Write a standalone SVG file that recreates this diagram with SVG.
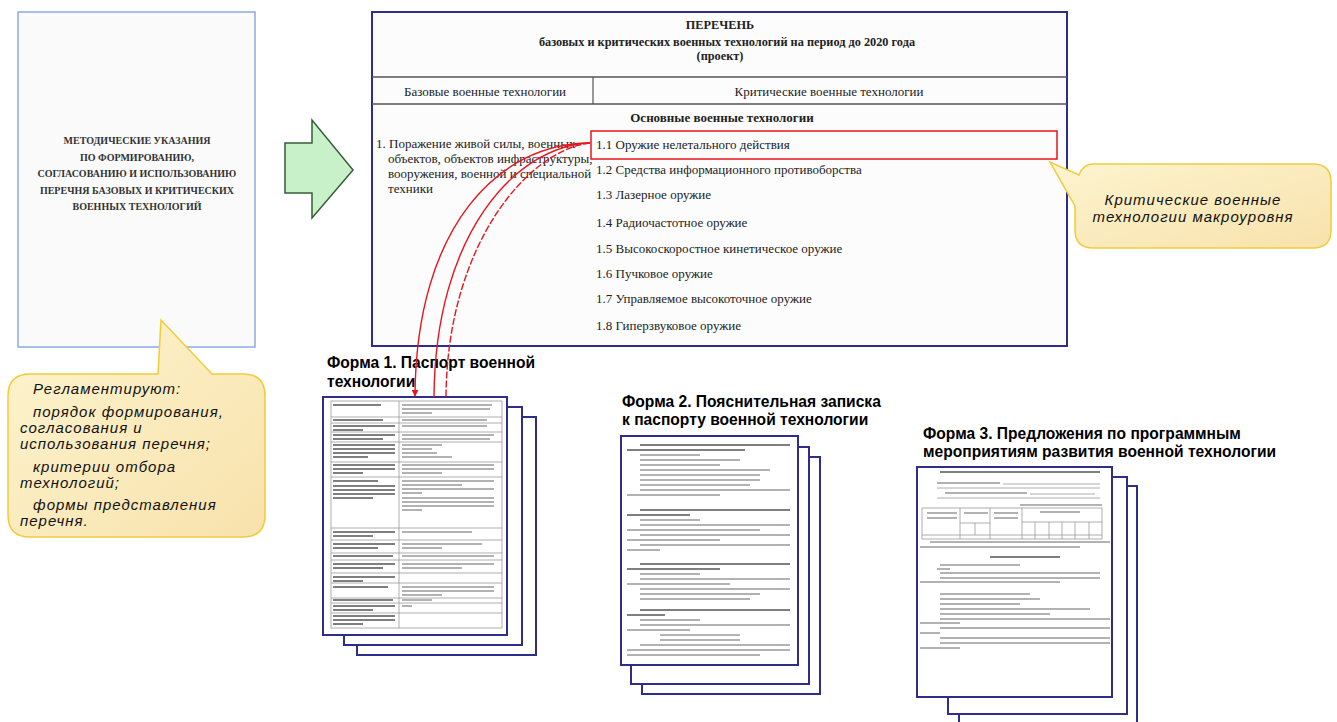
<svg xmlns="http://www.w3.org/2000/svg" width="1337" height="722" viewBox="0 0 1337 722">
  <style>
    .serif { font-family: "Liberation Serif", "Times New Roman", serif; fill: #222; }
    .cover { font-family: "Liberation Serif", serif; font-weight: bold; font-size: 10px; fill: #333; text-anchor: middle; }
    .hdr { font-weight: bold; font-size: 12.3px; text-anchor: middle; }
    .item { font-size: 13px; }
    .note { font-family: "Liberation Sans", Arial, sans-serif; font-style: italic; font-size: 15px; fill: #111; letter-spacing: 1px; }
    .ftitle { font-family: "Liberation Sans", Arial, sans-serif; font-weight: bold; font-size: 15.6px; fill: #000; }
    .page { fill: #fff; stroke: #2e2e8a; stroke-width: 2; }
    .bubble { fill: url(#bubbleFill); stroke: #f0cc3c; stroke-width: 1.5; }
    .txtDark { fill: none; stroke: #555; stroke-width: 1.6; }
    .txtLight { fill: none; stroke: #999; stroke-width: 1.3; }
    .grid { fill: none; stroke: #999; stroke-width: 0.8; }
    .link { fill: none; stroke: #e8141c; stroke-width: 1.4; }
  </style>
  <defs>
    <linearGradient id="bubbleFill" x1="0" y1="0" x2="1" y2="1">
      <stop offset="0" stop-color="#fdf4cf"/>
      <stop offset="1" stop-color="#f8e2ac"/>
    </linearGradient>
    <marker id="redHead" viewBox="0 0 10 10" refX="9" refY="5" markerWidth="7" markerHeight="7" orient="auto" markerUnits="userSpaceOnUse">
      <path d="M0,0 L10,5 L0,10 Z" fill="#e8141c"/>
    </marker>
  </defs>

  <rect width="1337" height="722" fill="#fff"/>

  <!-- Cover of the methodical guidelines -->
  <g id="cover">
    <rect x="18" y="12" width="237" height="335" fill="#fafafa" stroke="#8eaae0" stroke-width="1.5"/>
    <text class="cover" x="137" y="144">МЕТОДИЧЕСКИЕ УКАЗАНИЯ</text>
    <text class="cover" x="137" y="161">ПО ФОРМИРОВАНИЮ,</text>
    <text class="cover" x="137" y="177">СОГЛАСОВАНИЮ И ИСПОЛЬЗОВАНИЮ</text>
    <text class="cover" x="137" y="194">ПЕРЕЧНЯ БАЗОВЫХ И КРИТИЧЕСКИХ</text>
    <text class="cover" x="137" y="210">ВОЕННЫХ ТЕХНОЛОГИЙ</text>
  </g>

  <!-- Left note bubble -->
  <g id="note-left">
    <path class="bubble" d="M30,374 H158 L161,320 L212,374 H243 Q265,374 265,396 V515 Q265,537 243,537 H30 Q8,537 8,515 V396 Q8,374 30,374 Z"/>
    <text class="note" x="33" y="394">Регламентируют:</text>
    <text class="note" x="33" y="417">порядок формирования,</text>
    <text class="note" x="20" y="433">согласования и</text>
    <text class="note" x="20" y="449">использования перечня;</text>
    <text class="note" x="33" y="472">критерии отбора</text>
    <text class="note" x="20" y="488">технологий;</text>
    <text class="note" x="33" y="510">формы представления</text>
    <text class="note" x="20" y="526">перечня.</text>
  </g>

  <!-- Block arrow -->
  <g id="block-arrow">
    <path d="M285,143 H312 V120 L353,170 L312,218 V193 H285 Z" fill="#c9f1c9" stroke="#355e35" stroke-width="1.5" stroke-linejoin="miter"/>
  </g>

  <!-- List of base and critical technologies -->
  <g id="tech-list">
    <rect x="372" y="12" width="695" height="334" fill="#fcfcfc" stroke="#2e2e8a" stroke-width="2"/>
    <text class="serif hdr" x="720" y="29">ПЕРЕЧЕНЬ</text>
    <text class="serif hdr" x="727" y="46">базовых и критических военных технологий на период до 2020 года</text>
    <text class="serif hdr" x="720" y="60">(проект)</text>
    <line x1="372" y1="77" x2="1067" y2="77" stroke="#555" stroke-width="1.5"/>
    <line x1="372" y1="104" x2="1067" y2="104" stroke="#555" stroke-width="1.5"/>
    <line x1="593" y1="77" x2="593" y2="104" stroke="#555" stroke-width="1.2"/>
    <text class="serif item" x="485" y="96" text-anchor="middle">Базовые военные технологии</text>
    <text class="serif item" x="829" y="96" text-anchor="middle">Критические военные технологии</text>
    <text class="serif item" x="722" y="122" text-anchor="middle" font-weight="bold">Основные военные технологии</text>
    <text class="serif item" x="376" y="148">1. Поражение живой силы, военных</text>
    <text class="serif item" x="388" y="163">объектов, объектов инфраструктуры,</text>
    <text class="serif item" x="388" y="178">вооружения, военной и специальной</text>
    <text class="serif item" x="388" y="193">техники</text>
    <text class="serif item" x="596" y="149">1.1 Оружие нелетального действия</text>
    <text class="serif item" x="596" y="174">1.2 Средства информационного противоборства</text>
    <text class="serif item" x="596" y="199">1.3 Лазерное оружие</text>
    <text class="serif item" x="596" y="227">1.4 Радиочастотное оружие</text>
    <text class="serif item" x="596" y="253">1.5 Высокоскоростное кинетическое оружие</text>
    <text class="serif item" x="596" y="278">1.6 Пучковое оружие</text>
    <text class="serif item" x="596" y="303">1.7 Управляемое высокоточное оружие</text>
    <text class="serif item" x="596" y="330">1.8 Гиперзвуковое оружие</text>
    <rect x="591" y="131" width="466" height="28" fill="none" stroke="#e8141c" stroke-width="1.5"/>
  </g>

  <!-- Right note bubble -->
  <g id="note-right">
    <path class="bubble" d="M1093,164 H1313 Q1331,164 1331,182 V230 Q1331,248 1313,248 H1093 Q1075,248 1075,230 V206 L1050,162 L1079,175 Q1083,164 1093,164 Z"/>
    <text class="note" x="1193" y="205" text-anchor="middle">Критические военные</text>
    <text class="note" x="1193" y="222" text-anchor="middle">технологии макроуровня</text>
  </g>

  <!-- Form 1: technology passport -->
  <g id="form1">
    <text class="ftitle" x="327" y="368">Форма 1. Паспорт военной</text>
    <text class="ftitle" x="327" y="387">технологии</text>
    <rect class="page" x="357" y="417" width="179" height="238"/>
    <rect class="page" x="344" y="407" width="178" height="238"/>
    <rect class="page" x="323" y="397" width="184" height="238"/>
    <rect class="grid" x="331" y="401" width="171" height="227"/>
    <path class="grid" d="M399,401 V628 M331,417 H502 M331,423 H502 M331,432 H502 M331,442 H502 M331,462 H502 M331,477 H502 M331,528 H502 M331,540 H502 M331,553 H502 M331,560 H502 M331,573 H502 M331,583 H502 M331,598 H502 M331,603 H502 M331,613 H502"/>
    <path class="txtDark" d="M333,405h48 M333,420h50 M333,426h62 M333,430h30 M333,435h62 M333,439h50 M333,445h62 M333,449h62 M333,453h62 M333,457h35 M333,465h62 M333,469h62 M333,473h30 M333,481h45 M333,486h62 M333,490h62 M333,494h62 M333,498h40 M333,532h62 M333,536h40 M333,544h62 M333,548h45 M333,556h60 M333,564h62 M333,568h50 M333,577h62 M333,581h30 M333,587h55 M333,600h60 M333,606h62 M333,610h40 M333,616h62 M333,620h62 M333,624h30"/>
    <path class="txtLight" d="M402,405h90 M402,409h88 M402,413h30 M402,420h85 M402,426h85 M402,435h92 M402,439h88 M402,445h40 M402,449h30 M402,453h35 M402,457h50 M402,465h92 M402,469h92 M402,473h40 M402,481h92 M402,485h60 M402,489h92 M402,493h20 M402,498h92 M402,502h92 M402,506h92 M402,510h20 M402,532h70 M402,544h80 M402,548h40 M402,556h92 M402,564h92 M402,568h60 M402,587h92 M402,591h92 M402,595h40 M402,600h30 M402,606h10"/>
  </g>

  <!-- Form 2: explanatory note -->
  <g id="form2">
    <text class="ftitle" x="622" y="407">Форма 2. Пояснительная записка</text>
    <text class="ftitle" x="622" y="425">к паспорту военной технологии</text>
    <rect class="page" x="642" y="457" width="178" height="237"/>
    <rect class="page" x="631" y="447" width="178" height="237"/>
    <rect class="page" x="621" y="436" width="177" height="229"/>
    <path class="txtDark" d="M640,445h150 M627,450h118 M640,510h150 M627,515h63 M640,564h150 M627,569h93 M640,610h150 M627,615h38"/>
    <path class="txtLight" d="M640,455h60 M640,460h100 M640,465h80 M640,470h130 M640,475h120 M640,480h120 M640,485h110 M640,490h150 M627,495h93 M640,520h60 M640,525h150 M627,530h133 M640,535h150 M627,540h93 M640,545h150 M627,550h33 M640,574h60 M640,579h150 M627,584h103 M640,589h150 M640,594h120 M640,599h110 M640,620h60 M640,625h150 M627,630h63 M660,635h80 M660,640h80 M640,645h150 M627,650h163 M627,655h133"/>
  </g>

  <!-- Form 3: programme proposals -->
  <g id="form3">
    <text class="ftitle" x="923" y="439">Форма 3. Предложения по программным</text>
    <text class="ftitle" x="923" y="457">мероприятиям развития военной технологии</text>
    <rect class="page" x="959" y="486" width="178" height="240"/>
    <rect class="page" x="948" y="477" width="179" height="237"/>
    <rect class="page" x="917" y="467" width="195" height="230"/>
    <path class="txtDark" d="M940,472h160 M990,557h70"/>
    <path class="txtLight" d="M937,483h63 M945,493h82 M1020,505h82 M930,542h180 M920,547h160 M940,565h80 M937,569h13 M940,573h160 M940,578h160 M920,582h140 M940,594h90 M940,599h100 M940,604h80 M940,609h150 M940,614h110 M940,619h170 M920,623h40 M940,628h170 M920,633h20 M940,638h170 M940,643h170 M920,648h40 M927,513h30 M927,518h30 M964,513h24 M994,513h24 M994,518h24 M1040,512h40"/>
    <path class="grid" d="M1003,484h97 M937,488h163 M1030,494h65 M937,498h163"/>
    <rect class="grid" x="922" y="508" width="180" height="31"/>
    <path class="grid" d="M960,508V539 M990,508V539 M1022,508V539 M960,523H990 M1022,522H1102 M975,523V535 M922,535H1102 M1035,522V539 M1049,522V539 M1062,522V539 M1075,522V539 M1089,522V539"/>
  </g>

  <!-- Connectors from item 1.1 to the passport form -->
  <g id="connectors">
    <path class="link" d="M590,143 C500,143 416,225 415,396" marker-end="url(#redHead)"/>
    <path class="link" d="M590,143 C515,146 435,235 434,397"/>
    <path class="link" d="M590,143 C528,150 447,245 446,397" stroke-dasharray="7,2"/>
  </g>
</svg>
